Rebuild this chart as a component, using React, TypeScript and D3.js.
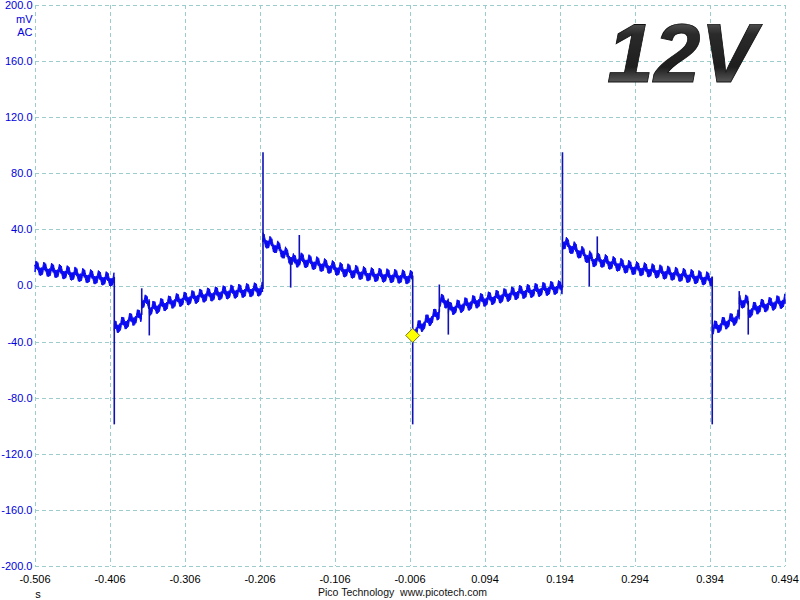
import React from "react";
import * as d3 from "d3";

// ---- axis ticks ----
const xTicks = [-0.506, -0.406, -0.306, -0.206, -0.106, -0.006, 0.094, 0.194, 0.294, 0.394, 0.494];
const yTicks = [200, 160, 120, 80, 40, 0, -40, -80, -120, -160, -200];

// ---- trace: band centre (time s, mV), split at discontinuities ----
const traceA: [number, number][] = [[-0.506, 12.5], [-0.473, 10], [-0.44, 7], [-0.4005, 4]];
const traceB: [number, number][] = [[-0.4003, -30], [-0.364, -21]];
const traceC: [number, number][] = [[-0.3637, -11.5], [-0.3538, -12]];
const traceD: [number, number][] = [[-0.3536, -17], [-0.32, -11], [-0.286, -7.5], [-0.253, -5], [-0.2025, -2.5]];
const traceE: [number, number][] = [[-0.202, 33], [-0.18, 26], [-0.166, 20], [-0.16, 17], [-0.153, 18.5], [-0.126, 15], [-0.099, 11.4], [-0.059, 7.8], [-0.0026, 5.7]];
const traceF: [number, number][] = [[-0.0024, -33], [0.033, -19]];
const traceG: [number, number][] = [[0.0333, -11], [0.0449, -11.5]];
const traceH: [number, number][] = [[0.0451, -17], [0.0853, -11], [0.1387, -5], [0.1893, -1.5], [0.1971, -1.5]];
const traceI: [number, number][] = [[0.1973, 31], [0.233, 20], [0.238, 18], [0.244, 18.5], [0.2875, 12.8], [0.337, 9], [0.3968, 4.3]];
const traceJ: [number, number][] = [[0.397, -31], [0.4328, -22]];
const traceK: [number, number][] = [[0.433, -11], [0.4448, -12]];
const traceL: [number, number][] = [[0.445, -18.5], [0.46, -15], [0.494, -11]];
const traces = [traceA, traceB, traceC, traceD, traceE, traceF, traceG, traceH, traceI, traceJ, traceK, traceL];

// ---- spikes (time s, from mV, to mV) ----
const spikeT = [-0.4003, -0.3637, -0.3536, -0.202, -0.1651, -0.1536, -0.0024, 0.0331, 0.0451, 0.1973, 0.233, 0.2437, 0.397, 0.433, 0.445];
const spikeFrom = [6, -21, -11, -2.5, 20, 18, 7, -19, -11, -1.5, 20, 18, 6, -22, -11];
const spikeTo = [-99, -2, -35.6, 95, -1.5, 36, -99, 0.7, -35, 95, -0.7, 35, -99, -4, -35];

// ripple texture (one cycle, mV offsets)
const ripplePeriod = 0.0104;
const rippleShape = [-0.8, 1.2, 3.0, 1.6, 2.6, 0.8, 2.0, 0.2, -1.0, -2.6, -1.4, -2.9, -1.6, -2.4, -1.0, -1.9];
const bandHalfWidth = 2.1; // mV

// marker
const markerT = -0.0024;
const markerV = -35.6;

export default function App() {
  const W = 800, H = 600;
  const left = 35, right = 785, top = 5, bottom = 566;
  const x = d3.scaleLinear().domain([-0.506, 0.494]).range([left, right]);
  const y = d3.scaleLinear().domain([-200, 200]).range([bottom, top]);

  const step = ripplePeriod / rippleShape.length;
  const area = d3.area<[number, number]>()
    .x(d => x(d[0]))
    .y0(d => y(d[1] - bandHalfWidth))
    .y1(d => y(d[1] + bandHalfWidth));

  const bandPaths = traces.map((seg) => {
    const trend = d3.scaleLinear().domain(seg.map(p => p[0])).range(seg.map(p => p[1]));
    const t0 = seg[0][0], t1 = seg[seg.length - 1][0];
    const pts: [number, number][] = [];
    for (let k = Math.ceil((t0 + 0.506) / step); k * step - 0.506 <= t1; k++) {
      const t = k * step - 0.506;
      pts.push([t, trend(t) + rippleShape[k % rippleShape.length]]);
    }
    pts.unshift([t0, seg[0][1]]);
    pts.push([t1, seg[seg.length - 1][1]]);
    return area(pts) || "";
  });

  const grid = "#9dcccc";
  const font = "'Liberation Sans', Arial, sans-serif";
  const mx = x(markerT), my = y(markerV);

  return (
    <svg width={W} height={H} style={{ position: "fixed", left: 0, top: 0, background: "#fff" }}>
      <defs>
        <linearGradient id="g12" x1="0" y1="0" x2="0" y2="1">
          <stop offset="0" stopColor="#8a8a8a" />
          <stop offset="0.3" stopColor="#2a2a2a" />
          <stop offset="0.65" stopColor="#1e1e1e" />
          <stop offset="1" stopColor="#9a9a9a" />
        </linearGradient>
      </defs>
      <rect x={0} y={0} width={W} height={H} fill="#fff" />
      {/* grid */}
      {xTicks.map((t, i) => (
        <line key={"gx" + i} x1={Math.round(x(t)) + 0.5} x2={Math.round(x(t)) + 0.5} y1={top} y2={bottom}
          stroke={grid} strokeDasharray="4,3" />
      ))}
      {yTicks.map((v, i) => (
        <line key={"gy" + i} x1={left} x2={right} y1={Math.round(y(v)) + 0.5} y2={Math.round(y(v)) + 0.5}
          stroke={grid} strokeDasharray="4,3" />
      ))}
      {/* 12V label */}
      <text x={607} y={82} fontFamily={font} fontWeight="bold" fontStyle="italic" fontSize={84}
        fill="url(#g12)" stroke="#111" strokeWidth={0.8}>12V</text>
      {/* y labels */}
      {yTicks.map((v, i) => (
        <text key={"yl" + i} x={32.5} y={y(v)} dy="0.36em" textAnchor="end" fontFamily={font} fontSize={11} fill="#0000dd">
          {v.toFixed(1)}
        </text>
      ))}
      <text x={32.5} y={19} dy="0.36em" textAnchor="end" fontFamily={font} fontSize={11} fill="#0000dd">mV</text>
      <text x={32.5} y={32.5} dy="0.36em" textAnchor="end" fontFamily={font} fontSize={11} fill="#0000dd">AC</text>
      {/* x labels */}
      {xTicks.map((t, i) => (
        <text key={"xl" + i} x={x(t)} y={582.5} textAnchor="middle" fontFamily={font} fontSize={11} fill="#000">
          {t.toFixed(3)}
        </text>
      ))}
      <text x={38} y={598} textAnchor="middle" fontFamily={font} fontSize={11} fill="#000">s</text>
      <text x={318} y={595.5} fontFamily={font} fontSize={10.5} fill="#111" xmlSpace="preserve">Pico Technology  www.picotech.com</text>
      {/* trace band */}
      {bandPaths.map((d, i) => (
        <path key={"b" + i} d={d} fill="#0a0af2" stroke="#0a0af2" strokeWidth={1} strokeLinejoin="bevel" />
      ))}
      {/* spikes */}
      {spikeT.map((t, i) => (
        <line key={"s" + i} x1={x(t)} x2={x(t)} y1={y(spikeFrom[i])} y2={y(spikeTo[i])}
          stroke="#1010b4" strokeWidth={1.6} />
      ))}
      {/* marker */}
      <path d={`M${mx},${my - 7}L${mx + 7},${my}L${mx},${my + 7}L${mx - 7},${my}Z`} fill="#ffff00" stroke="#7a7a20" strokeWidth={1} />
    </svg>
  );
}
